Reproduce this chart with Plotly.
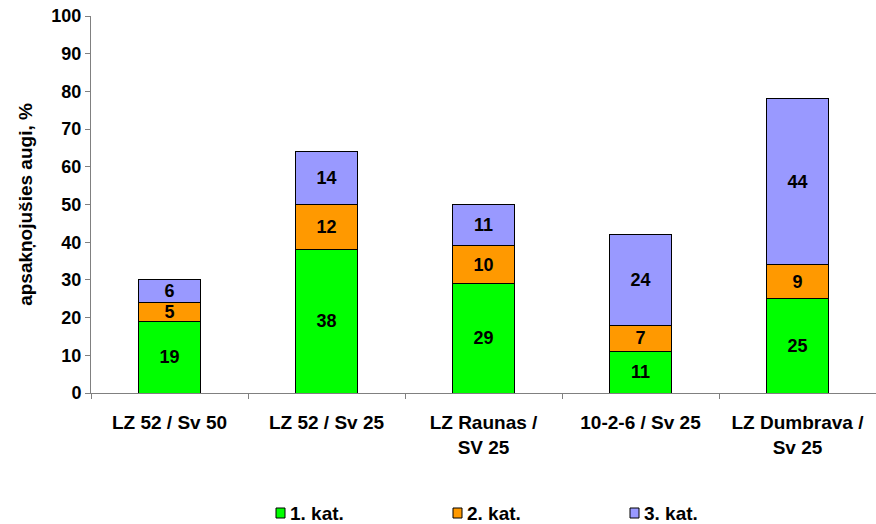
import plotly.graph_objects as go

# Categories and stacked values (% of rooted plants)
categories = ["LZ 52 / Sv 50", "LZ 52 / Sv 25", "LZ Raunas /<br>SV 25",
              "10-2-6 / Sv 25", "LZ Dumbrava /<br>Sv 25"]
kat1 = [19, 38, 29, 11, 25]
kat2 = [5, 12, 10, 7, 9]
kat3 = [6, 14, 11, 24, 44]
series_names = ["1. kat.", "2. kat.", "3. kat."]
series_colors = ["#00FF00", "#FF9900", "#9999FF"]
y_ticks = [0, 10, 20, 30, 40, 50, 60, 70, 80, 90, 100]

FONT = "Liberation Sans, Arial, sans-serif"
W, H = 876, 524
M_L, M_R, M_T, M_B = 91, 0, 16, 131
PLOT_W = W - M_L - M_R
PLOT_H = H - M_T - M_B


def bold_font(size=18):
    return dict(family=FONT, size=size, color="black", weight="bold")


def px_x(px):
    """Pixel column -> paper x."""
    return (px - M_L) / PLOT_W


def px_y(py):
    """Pixel row -> paper y."""
    return (H - M_B - py) / PLOT_H


fig = go.Figure()
for name, vals, color in zip(series_names, [kat1, kat2, kat3], series_colors):
    fig.add_trace(go.Bar(
        x=categories, y=vals, name=name,
        marker=dict(color=color, line=dict(color="black", width=1)),
        text=[str(v) for v in vals],
        textposition="inside", insidetextanchor="middle", textangle=0,
        textfont=bold_font(),
        constraintext="none",
        width=0.4,
        showlegend=False,
    ))

# Legend row below the chart: small square swatch followed by its label
legend_left = [276, 453, 630]
legend_mid = 513
shapes, annotations = [], []
for left, name, color in zip(legend_left, series_names, series_colors):
    shapes.append(dict(
        type="rect", xref="paper", yref="paper",
        x0=px_x(left), x1=px_x(left + 9),
        y0=px_y(legend_mid + 5), y1=px_y(legend_mid - 5),
        fillcolor=color, line=dict(color="black", width=1),
    ))
    annotations.append(dict(
        xref="paper", yref="paper", x=px_x(left + 12), y=px_y(legend_mid),
        xanchor="left", yanchor="middle", text=name, showarrow=False,
        font=bold_font(19),
    ))

fig.update_layout(
    barmode="stack",
    width=W, height=H,
    margin=dict(l=M_L, r=M_R, t=M_T, b=M_B),
    plot_bgcolor="white", paper_bgcolor="white",
    font=bold_font(),
    showlegend=False,
    shapes=shapes,
    annotations=annotations,
    xaxis=dict(
        type="category",
        showline=True, linecolor="#808080", linewidth=1,
        ticks="outside", ticklen=5, tickcolor="#808080",
        tickson="boundaries",
        tickfont=bold_font(19),
        ticklabelstandoff=12,
        showgrid=False, automargin=False,
    ),
    yaxis=dict(
        range=[0, 100], tickvals=y_ticks,
        showline=True, linecolor="#808080", linewidth=1,
        ticks="outside", ticklen=5, tickcolor="#808080",
        tickfont=bold_font(),
        showgrid=False, zeroline=False, automargin=False,
        title=dict(text="apsakņojušies augi, %", font=bold_font(19), standoff=13),
    ),
)

fig.write_html("out.html")
